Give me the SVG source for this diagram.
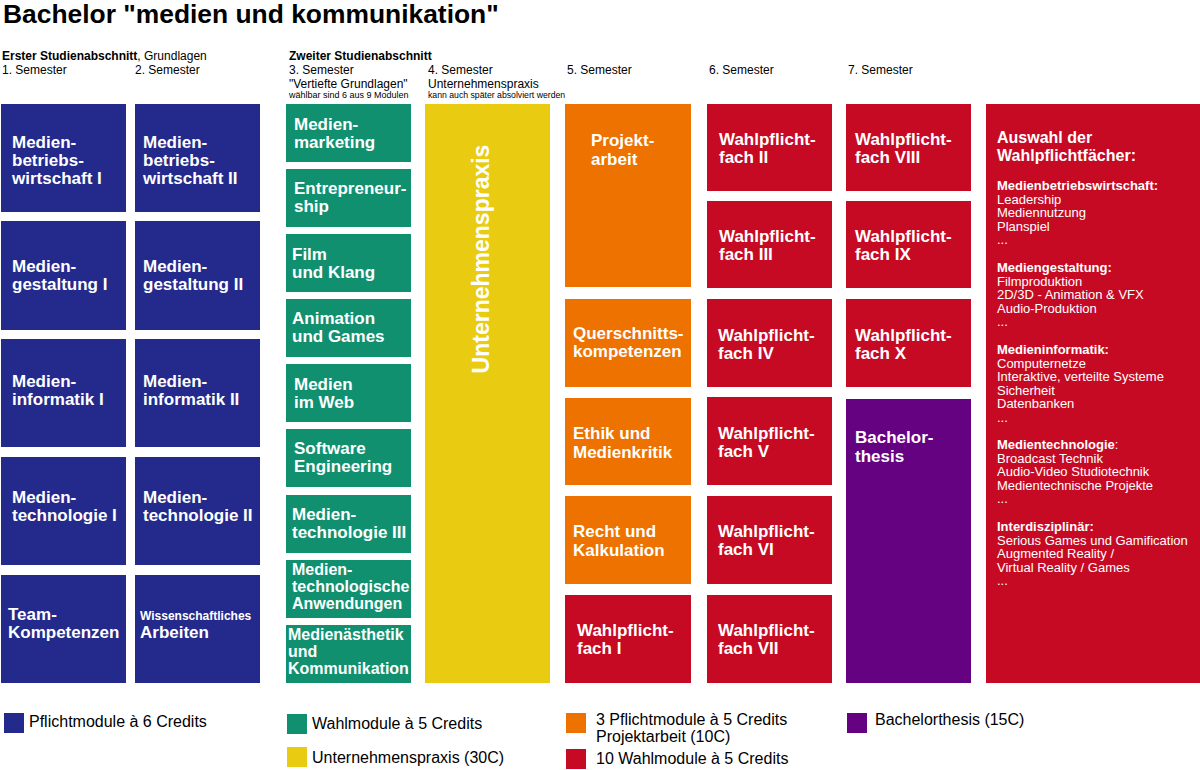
<svg xmlns="http://www.w3.org/2000/svg" width="1200" height="770" viewBox="0 0 1200 770">
<style>
text{font-family:"Liberation Sans",Arial,sans-serif}
.t{font-size:26.4px;font-weight:bold;fill:#000}
.h{font-size:12px;fill:#000}
.hb{font-size:12px;font-weight:bold;fill:#000}
.s{font-size:9px;fill:#000}
.bl{fill:#242a8c}
.gr{fill:#11906f}
.ye{fill:#e9cc12}
.or{fill:#ed7200}
.rd{fill:#c70a24}
.pu{fill:#650282}
.n{font-size:17px;font-weight:bold;fill:#fff}
.n16{font-size:16px;font-weight:bold;fill:#fff}
.sm{font-size:12px;font-weight:bold;fill:#fff}
.ph{font-size:16px;font-weight:bold;fill:#fff}
.pb{font-size:13px;font-weight:bold;fill:#fff}
.pt{font-size:13px;fill:#fff}
.lg{font-size:16px;fill:#000}
</style>
<rect width="1200" height="770" fill="#fff"/>
<text class="t" x="3" y="23">Bachelor "medien und kommunikation"</text>
<g id="headers">
<text class="h" x="2" y="60"><tspan class="hb">Erster Studienabschnitt</tspan>, Grundlagen</text>
<text class="h" x="2" y="74">1. Semester</text>
<text class="h" x="135" y="74">2. Semester</text>
<text class="hb" x="289" y="60">Zweiter Studienabschnitt</text>
<text class="h" x="289" y="74">3. Semester</text>
<text class="h" x="289" y="88">"Vertiefte Grundlagen"</text>
<text class="s" x="289" y="98">wählbar sind 6 aus 9 Modulen</text>
<text class="h" x="428" y="74">4. Semester</text>
<text class="h" x="428" y="88">Unternehmenspraxis</text>
<text class="s" x="428" y="98" style="font-size:8.7px">kann auch später absolviert werden</text>
<text class="h" x="567" y="74">5. Semester</text>
<text class="h" x="709" y="74">6. Semester</text>
<text class="h" x="848" y="74">7. Semester</text>
</g>
<g id="connectors"/>
<g id="sem1">
<g id="mbw1"><rect class="bl" x="1" y="104" width="125" height="108"/><text class="n" x="12" y="148">Medien-<tspan x="12" dy="18">betriebs-</tspan><tspan x="12" dy="18">wirtschaft I</tspan></text></g>
<g id="mg1"><rect class="bl" x="1" y="221" width="125" height="109"/><text class="n" x="12" y="272">Medien-<tspan x="12" dy="18">gestaltung I</tspan></text></g>
<g id="mi1"><rect class="bl" x="1" y="339" width="125" height="108"/><text class="n" x="12" y="387">Medien-<tspan x="12" dy="18">informatik I</tspan></text></g>
<g id="mt1"><rect class="bl" x="1" y="457" width="125" height="108"/><text class="n" x="12" y="503">Medien-<tspan x="12" dy="18">technologie I</tspan></text></g>
<g id="team"><rect class="bl" x="1" y="575" width="125" height="108"/><text class="n" x="8" y="620">Team-<tspan x="8" dy="18">Kompetenzen</tspan></text></g>
</g>
<g id="sem2">
<g id="mbw2"><rect class="bl" x="135" y="104" width="125" height="108"/><text class="n" x="143" y="148">Medien-<tspan x="143" dy="18">betriebs-</tspan><tspan x="143" dy="18">wirtschaft II</tspan></text></g>
<g id="mg2"><rect class="bl" x="135" y="221" width="125" height="109"/><text class="n" x="143" y="272">Medien-<tspan x="143" dy="18">gestaltung II</tspan></text></g>
<g id="mi2"><rect class="bl" x="135" y="339" width="125" height="108"/><text class="n" x="143" y="387">Medien-<tspan x="143" dy="18">informatik II</tspan></text></g>
<g id="mt2"><rect class="bl" x="135" y="457" width="125" height="108"/><text class="n" x="143" y="503">Medien-<tspan x="143" dy="18">technologie II</tspan></text></g>
<g id="wa"><rect class="bl" x="135" y="575" width="125" height="108"/><text class="sm" x="140" y="620">Wissenschaftliches</text><text class="n" x="140" y="638">Arbeiten</text></g>
</g>
<g id="sem3">
<g id="mm"><rect class="gr" x="286" y="104" width="125" height="58"/><text class="n" x="294" y="130">Medien-<tspan x="294" dy="18">marketing</tspan></text></g>
<g id="ent"><rect class="gr" x="286" y="169" width="125" height="58"/><text class="n" x="294" y="194">Entrepreneur-<tspan x="294" dy="18">ship</tspan></text></g>
<g id="film"><rect class="gr" x="286" y="234" width="125" height="58"/><text class="n" x="292" y="260">Film<tspan x="292" dy="18">und Klang</tspan></text></g>
<g id="anim"><rect class="gr" x="286" y="299" width="125" height="58"/><text class="n" x="292" y="324">Animation<tspan x="292" dy="18">und Games</tspan></text></g>
<g id="web"><rect class="gr" x="286" y="364" width="125" height="58"/><text class="n" x="294" y="390">Medien<tspan x="294" dy="18">im Web</tspan></text></g>
<g id="se"><rect class="gr" x="286" y="429" width="125" height="58"/><text class="n" x="294" y="454">Software<tspan x="294" dy="18">Engineering</tspan></text></g>
<g id="mt3"><rect class="gr" x="286" y="495" width="125" height="58"/><text class="n" x="292" y="520">Medien-<tspan x="292" dy="18">technologie III</tspan></text></g>
<g id="mta"><rect class="gr" x="286" y="560" width="125" height="58"/><text class="n16" x="292" y="575">Medien-<tspan x="292" dy="17">technologische</tspan><tspan x="292" dy="17">Anwendungen</tspan></text></g>
<g id="mak"><rect class="gr" x="286" y="625" width="125" height="58"/><text class="n16" x="288" y="640">Medienästhetik<tspan x="288" dy="17">und</tspan><tspan x="288" dy="17">Kommunikation</tspan></text></g>
</g>
<g id="sem4">
<g id="up"><rect class="ye" x="425" y="104" width="125" height="579"/><text class="n" style="font-size:23px" text-anchor="middle" transform="translate(489,259) rotate(-90)">Unternehmenspraxis</text></g>
</g>
<g id="sem5">
<g id="pa"><rect class="or" x="565" y="104" width="126" height="183"/><text class="n" x="591" y="146">Projekt-<tspan x="591" dy="19">arbeit</tspan></text></g>
<g id="qk"><rect class="or" x="565" y="299" width="126" height="88"/><text class="n" x="573" y="339">Querschnitts-<tspan x="573" dy="18">kompetenzen</tspan></text></g>
<g id="em"><rect class="or" x="565" y="398" width="126" height="87"/><text class="n" x="573" y="439">Ethik und<tspan x="573" dy="19">Medienkritik</tspan></text></g>
<g id="rk"><rect class="or" x="565" y="496" width="126" height="88"/><text class="n" x="573" y="537">Recht und<tspan x="573" dy="19">Kalkulation</tspan></text></g>
<g id="wpf1"><rect class="rd" x="565" y="595" width="126" height="88"/><text class="n" x="577" y="636">Wahlpflicht-<tspan x="577" dy="18">fach I</tspan></text></g>
</g>
<g id="sem6">
<g id="wpf2"><rect class="rd" x="707" y="104" width="125" height="87"/><text class="n" x="719" y="145">Wahlpflicht-<tspan x="719" dy="18">fach II</tspan></text></g>
<g id="wpf3"><rect class="rd" x="707" y="201" width="125" height="87"/><text class="n" x="719" y="242">Wahlpflicht-<tspan x="719" dy="18">fach III</tspan></text></g>
<g id="wpf4"><rect class="rd" x="707" y="299" width="125" height="88"/><text class="n" x="718" y="341">Wahlpflicht-<tspan x="718" dy="18">fach IV</tspan></text></g>
<g id="wpf5"><rect class="rd" x="707" y="397" width="125" height="88"/><text class="n" x="718" y="439">Wahlpflicht-<tspan x="718" dy="18">fach V</tspan></text></g>
<g id="wpf6"><rect class="rd" x="707" y="496" width="125" height="88"/><text class="n" x="718" y="537">Wahlpflicht-<tspan x="718" dy="18">fach VI</tspan></text></g>
<g id="wpf7"><rect class="rd" x="707" y="595" width="125" height="88"/><text class="n" x="718" y="636">Wahlpflicht-<tspan x="718" dy="18">fach VII</tspan></text></g>
</g>
<g id="sem7">
<g id="wpf8"><rect class="rd" x="846" y="104" width="125" height="87"/><text class="n" x="855" y="145">Wahlpflicht-<tspan x="855" dy="18">fach VIII</tspan></text></g>
<g id="wpf9"><rect class="rd" x="846" y="201" width="125" height="87"/><text class="n" x="855" y="242">Wahlpflicht-<tspan x="855" dy="18">fach IX</tspan></text></g>
<g id="wpf10"><rect class="rd" x="846" y="299" width="125" height="88"/><text class="n" x="855" y="341">Wahlpflicht-<tspan x="855" dy="18">fach X</tspan></text></g>
<g id="ba"><rect class="pu" x="846" y="399" width="125" height="284"/><text class="n" x="855" y="443">Bachelor-<tspan x="855" dy="19">thesis</tspan></text></g>
</g>
<g id="auswahl">
<rect class="rd" x="986" y="104" width="214" height="579"/>
<text class="ph" x="997" y="143">Auswahl der<tspan x="997" dy="18">Wahlpflichtfächer:</tspan></text>
<text class="pb" x="997" y="190">Medienbetriebswirtschaft:</text>
<text class="pt" x="997" y="203.5">Leadership<tspan x="997" dy="13.6">Mediennutzung</tspan><tspan x="997" dy="13.6">Planspiel</tspan><tspan x="997" dy="13.6">...</tspan></text>
<text class="pb" x="997" y="272">Mediengestaltung:</text>
<text class="pt" x="997" y="285.5">Filmproduktion<tspan x="997" dy="13.6">2D/3D - Animation &amp; VFX</tspan><tspan x="997" dy="13.6">Audio-Produktion</tspan><tspan x="997" dy="13.6">...</tspan></text>
<text class="pb" x="997" y="354">Medieninformatik:</text>
<text class="pt" x="997" y="367.5">Computernetze<tspan x="997" dy="13.6">Interaktive, verteilte Systeme</tspan><tspan x="997" dy="13.6">Sicherheit</tspan><tspan x="997" dy="13.6">Datenbanken</tspan><tspan x="997" dy="13.6">...</tspan></text>
<text class="pt" x="997" y="449"><tspan font-weight="bold">Medientechnologie</tspan>:</text>
<text class="pt" x="997" y="462.5">Broadcast Technik<tspan x="997" dy="13.6">Audio-Video Studiotechnik</tspan><tspan x="997" dy="13.6">Medientechnische Projekte</tspan><tspan x="997" dy="13.6">...</tspan></text>
<text class="pb" x="997" y="531">Interdisziplinär:</text>
<text class="pt" x="997" y="544.5">Serious Games und Gamification<tspan x="997" dy="13.6">Augmented Reality /</tspan><tspan x="997" dy="13.6">Virtual Reality / Games</tspan><tspan x="997" dy="13.6">...</tspan></text>
</g>
<g id="legend">
<rect class="bl" x="4" y="713" width="20" height="20"/><text class="lg" x="29" y="727">Pflichtmodule à 6 Credits</text>
<rect class="gr" x="287" y="714" width="20" height="20"/><text class="lg" x="312" y="729">Wahlmodule à 5 Credits</text>
<rect class="ye" x="287" y="747" width="20" height="20"/><text class="lg" x="312" y="763">Unternehmenspraxis (30C)</text>
<rect class="or" x="566" y="713" width="20" height="20"/><text class="lg" x="596" y="725">3 Pflichtmodule à 5 Credits<tspan x="596" dy="17">Projektarbeit (10C)</tspan></text>
<rect class="rd" x="566" y="749" width="20" height="20"/><text class="lg" x="596" y="764">10 Wahlmodule à 5 Credits</text>
<rect class="pu" x="847" y="713" width="20" height="20"/><text class="lg" x="875" y="725">Bachelorthesis (15C)</text>
</g>
</svg>
